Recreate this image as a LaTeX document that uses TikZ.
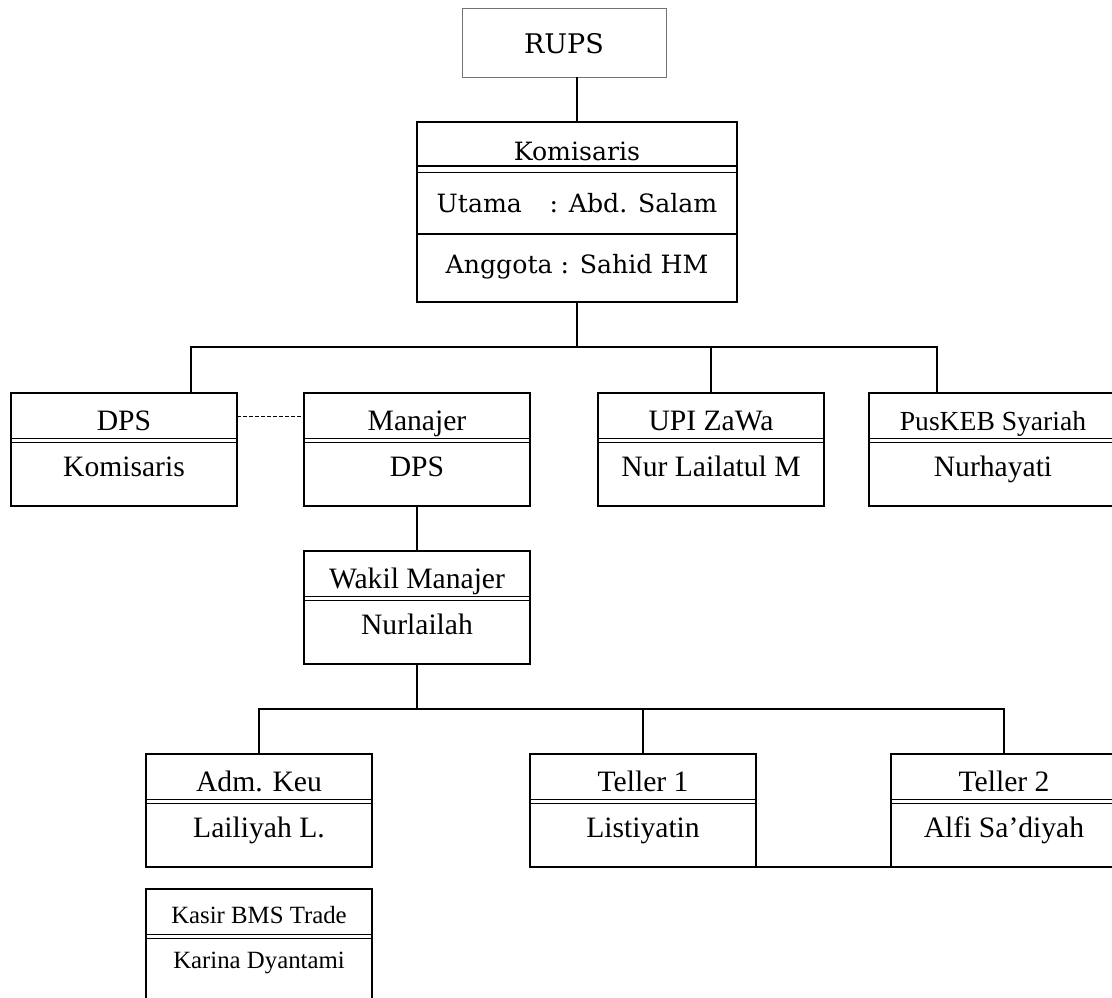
\documentclass[tikz,border=0pt]{standalone}
\usepackage{fontspec}
\setmainfont{Liberation Serif}
\newfontfamily\cambria{DejaVu Serif}

\begin{document}
\begin{tikzpicture}[
  x=0.5pt,
  y=-0.5pt,
  every node/.style={inner sep=0pt, outer sep=0pt},
  line/.style={line width=0.6pt},
  unit/.style={draw, line width=0.7pt, anchor=north west,
    minimum width=113pt, minimum height=56.5pt,
    path picture={
      \draw[line width=0.9pt] ([yshift=-22.7pt]path picture bounding box.north west)
        -- ([yshift=-22.7pt]path picture bounding box.north east);
      \draw[line width=0.5pt] ([yshift=-24.9pt]path picture bounding box.north west)
        -- ([yshift=-24.9pt]path picture bounding box.north east);
    }},
  kbox/.style={draw, line width=0.7pt, anchor=north west,
    minimum width=160pt, minimum height=90pt,
    path picture={
      \draw[line width=0.9pt] ([yshift=-22pt]path picture bounding box.north west)
        -- ([yshift=-22pt]path picture bounding box.north east);
      \draw[line width=0.5pt] ([yshift=-25pt]path picture bounding box.north west)
        -- ([yshift=-25pt]path picture bounding box.north east);
      \draw[line width=0.7pt] ([yshift=-56pt]path picture bounding box.north west)
        -- ([yshift=-56pt]path picture bounding box.north east);
    }},
  rbox/.style={draw=black!55, line width=0.5pt, anchor=north west,
    minimum width=102pt, minimum height=34.5pt},
  ttl/.style={anchor=base, font=\fontsize{14.8}{16}\selectfont},
  small/.style={anchor=base, font=\fontsize{13.8}{15}\selectfont},
  tiny/.style={anchor=base, font=\fontsize{12.4}{14}\selectfont},
  top/.style={anchor=base, font=\cambria\fontsize{12.6}{14}\selectfont},
]
  \useasboundingbox (0,0) rectangle (1112,997);
  \clip (0,0) rectangle (1112,997);

  % top: RUPS and Komisaris
  \node[rbox] (rups) at (462,8) {};
  \node[top, font=\cambria\fontsize{13.5}{15}\selectfont] (rupsT) at ([yshift=-22.5pt]rups.north) {RUPS};
  \node[kbox] (kom) at (417,122) {};
  \node[top] (komT) at ([yshift=-19pt]kom.north) {Komisaris};
  \node[top] (utama) at ([yshift=-45pt]kom.north) {Utama\hspace{1.1em}: Abd. Salam};
  \node[top] (anggota) at ([yshift=-75.5pt]kom.north) {Anggota : Sahid HM};

  % second row
  \node[unit] (dps) at (11,393) {};
  \node[ttl] (dpsT) at ([yshift=-18.75pt]dps.north) {DPS};
  \node[ttl] (dpsN) at ([yshift=-41.5pt]dps.north) {Komisaris};
  \node[unit] (man) at (304,393) {};
  \node[ttl] (manT) at ([yshift=-18.75pt]man.north) {Manajer};
  \node[ttl] (manN) at ([yshift=-41.5pt]man.north) {DPS};
  \node[unit] (upi) at (598,393) {};
  \node[ttl] (upiT) at ([yshift=-18.75pt]upi.north) {UPI ZaWa};
  \node[ttl] (upiN) at ([yshift=-41.5pt]upi.north) {Nur Lailatul M};
  \node[unit, minimum width=124pt] (pus) at (869,393) {};
  \node[small] (pusT) at ([yshift=-18.75pt]pus.north) {PusKEB Syariah};
  \node[ttl] (pusN) at ([yshift=-41.5pt]pus.north) {Nurhayati};

  % Wakil Manajer
  \node[unit] (wakil) at (304,551) {};
  \node[ttl] (wakilT) at ([yshift=-18.75pt]wakil.north) {Wakil Manajer};
  \node[ttl] (wakilN) at ([yshift=-41.5pt]wakil.north) {Nurlailah};

  % staff row
  \node[unit] (adm) at (146,754) {};
  \node[ttl] (admT) at ([yshift=-18.75pt]adm.north) {Adm. Keu};
  \node[ttl] (admN) at ([yshift=-41.5pt]adm.north) {Lailiyah L.};
  \node[unit] (tel1) at (530,754) {};
  \node[ttl] (tel1T) at ([yshift=-18.75pt]tel1.north) {Teller 1};
  \node[ttl] (tel1N) at ([yshift=-41.5pt]tel1.north) {Listiyatin};
  \node[unit] (tel2) at (891,754) {};
  \node[ttl] (tel2T) at ([yshift=-18.75pt]tel2.north) {Teller 2};
  \node[ttl] (tel2N) at ([yshift=-41.5pt]tel2.north) {Alfi Sa’diyah};
  \node[unit, minimum height=70pt] (kasir) at (146,889) {};
  \node[tiny] (kasirT) at ([yshift=-17pt]kasir.north) {Kasir BMS Trade};
  \node[tiny] (kasirN) at ([yshift=-39.5pt]kasir.north) {Karina Dyantami};

  % connectors
  \coordinate (busA) at (577,347);
  \coordinate (busB) at (417,709);
  \draw[line] (rups.south -| kom.north) -- (kom.north);
  \draw[line] (kom.south) -- (busA);
  \draw[line] ([xshift=33.5pt]dps.north) |- (busA) -| ([xshift=-28pt]pus.north);
  \draw[line] (upi.north) -- (upi.north |- busA);
  \draw[line width=0.4pt, dash pattern=on 2pt off 1pt]
    ([yshift=16.75pt]dps.east) -- ([yshift=16.75pt]man.west);
  \draw[line] (man.south) -- (wakil.north);
  \draw[line] (wakil.south) -- (busB);
  \draw[line] (adm.north) |- (busB) -| (tel2.north);
  \draw[line] (tel1.north) -- (tel1.north |- busB);
  \draw[line] (tel1.south east) -- (tel2.south west);
\end{tikzpicture}
\end{document}
